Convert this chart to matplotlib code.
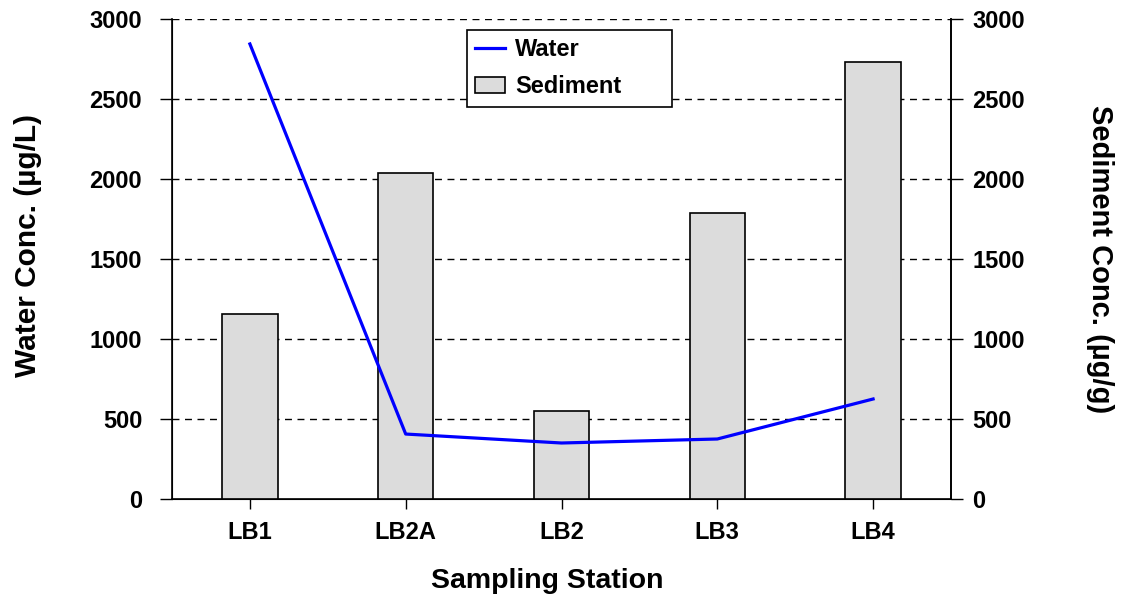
import matplotlib
matplotlib.use("Agg")
import matplotlib.pyplot as plt
from matplotlib.lines import Line2D
from matplotlib.patches import Patch

stations = ["LB1", "LB2A", "LB2", "LB3", "LB4"]
sediment = [1156, 2037, 550, 1787, 2731]
water = [2844, 406, 350, 375, 625]
yticks = [0, 500, 1000, 1500, 2000, 2500, 3000]

plt.rcParams['font.family'] = ['Liberation Sans', 'DejaVu Sans']
plt.rcParams['font.weight'] = 'bold'

W, H = 1122, 598
fig = plt.figure(figsize=(W/100, H/100), dpi=100)
ax = fig.add_axes([172/W, 99/H, 779/W, 480/H])
x = list(range(len(stations)))
ax.bar(x, sediment, width=0.355, color='#dcdcdc', edgecolor='black', linewidth=1.2, zorder=3)
ax.plot(x, water, color='#0000ff', linewidth=2.3, zorder=4)
ax.set_xlim(-0.5, 4.5)
ax.set_ylim(0, 3000)
ax.set_yticks(yticks)
ax.set_xticks(x)
ax.set_xticklabels(stations)
for t in yticks[1:]:
    ax.axhline(t, color='black', linestyle=(0, (5, 4)), linewidth=1.0, zorder=1)
ax.spines['top'].set_visible(False)
for s in ['left', 'right', 'bottom']:
    ax.spines[s].set_linewidth(1.2)
ax.tick_params(axis='x', direction='out', length=7, width=1, labelsize=17, pad=9)
ax.tick_params(axis='y', direction='out', length=8.5, width=1, labelsize=17, pad=13)

ax2 = ax.twinx()
ax2.set_ylim(0, 3000)
ax2.set_yticks(yticks)
ax2.spines['top'].set_visible(False)
ax2.spines['right'].set_linewidth(1.2)
ax2.tick_params(axis='y', direction='out', length=8.5, width=1, labelsize=17, pad=7)

fig.text(28/W, 1 - 246/H, "Water Conc. (µg/L)", rotation=90, ha='center', va='center',
         fontsize=21.5, fontweight='bold')
fig.text(1100/W, 1 - 259/H, "Sediment Conc. (µg/g)", rotation=270, ha='center', va='center',
         fontsize=21, fontweight='bold')
fig.text(547/W, 1 - 588/H, "Sampling Station", ha='center', va='baseline',
         fontsize=20.5, fontweight='bold')

handles = [Line2D([0], [0], color='#0000ff', linewidth=2.3),
           Patch(facecolor='#dcdcdc', edgecolor='black', linewidth=1.2)]
x0 = (467 - 172) / 779
w = 205 / 779
ytop = (499 - 30) / 480
h = 75 / 480
leg = ax.legend(handles, ["Water", "Sediment"], loc='upper left',
                bbox_to_anchor=(x0, ytop - h, w, h), mode='expand', borderaxespad=0,
                fontsize=17, frameon=True, fancybox=False, edgecolor='black', framealpha=1,
                handlelength=1.25, handleheight=0.65, handletextpad=0.45, borderpad=0.35,
                labelspacing=0.6)
leg.get_frame().set_linewidth(1.2)
leg.set_zorder(10)

fig.savefig("out.png", dpi=100)
